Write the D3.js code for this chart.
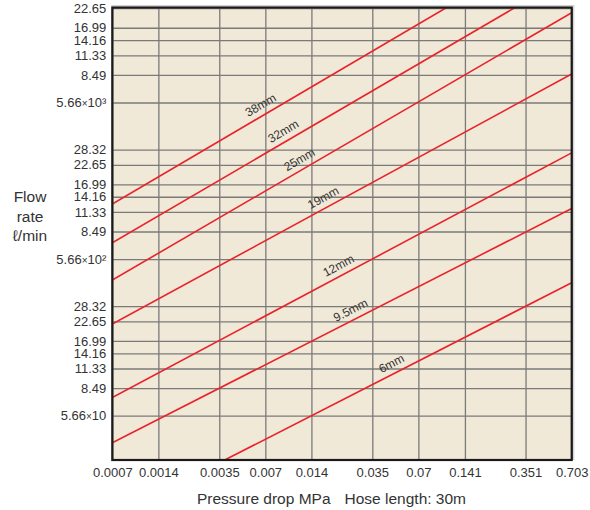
<!DOCTYPE html>
<html>
<head>
<meta charset="utf-8">
<script src="https://cdn.jsdelivr.net/npm/d3@7"></script>
<style>
  body { margin: 0; background: #fff; }
  svg { display: block; font-family: "Liberation Sans", Arial, sans-serif; }
</style>
</head>
<body>
<div id="chart"></div>
<script>
// x axis: pressure drop (MPa), y axis: flow rate (l/min), both log
var xTicks = [0.0007, 0.0014, 0.0035, 0.007, 0.014, 0.035, 0.07, 0.141, 0.351, 0.703];
var xTickLabels = ["0.0007", "0.0014", "0.0035", "0.007", "0.014", "0.035", "0.07", "0.141", "0.351", "0.703"];

var yTicks = [56.6, 84.9, 113.3, 141.6, 169.9, 226.5, 283.2,
              566, 849, 1133, 1416, 1699, 2265, 2832,
              5660, 8490, 11330, 14160, 16990, 22650];
var yTickLabels = ["5.66×10", "8.49", "11.33", "14.16", "16.99", "22.65", "28.32",
                   "5.66×10²", "8.49", "11.33", "14.16", "16.99", "22.65", "28.32",
                   "5.66×10³", "8.49", "11.33", "14.16", "16.99", "22.65"];

// hose sizes, each line read at two points (pressure, flow)
var hoseSizes = ["38mm", "32mm", "25mm", "19mm", "12mm", "9.5mm", "6mm"];
var hosePressure = [[0.0007, 0.107], [0.0007, 0.30], [0.0007, 0.703], [0.0007, 0.703],
                    [0.0007, 0.703], [0.0007, 0.703], [0.0038, 0.703]];
var hoseFlow = [[1272, 22880], [720, 22880], [416, 21200], [218, 8600],
                [74, 2700], [38, 1190], [29.5, 400]];
// pressure where each size label sits along its line
var labelPressure = [0.00704, 0.0099, 0.0126, 0.018, 0.0226, 0.027, 0.05];

var margin = {top: 7.5, left: 112.3},
    width = 459.4,
    height = 452.5;

var svg = d3.select("#chart").append("svg")
    .attr("width", 590)
    .attr("height", 510);

var g = svg.append("g")
    .attr("transform", "translate(" + margin.left + "," + margin.top + ")");

var x = d3.scaleLog().domain([0.0007, 0.703]).range([0, width]);
var y = d3.scaleLog().domain([29.5, 22880]).range([height, 0]);

// faint shadow outside the top and right edges
g.append("path")
    .attr("d", "M-1,-2H" + (width + 2) + "V" + height)
    .attr("fill", "none")
    .attr("stroke", "#d0d0d0")
    .attr("stroke-width", 1.2);

g.append("rect")
    .attr("width", width)
    .attr("height", height)
    .attr("fill", "#f1e9d7");

var tickFont = "13px 'Liberation Sans', Arial, sans-serif";

var gx = g.append("g")
    .attr("class", "axis axis--x")
    .attr("transform", "translate(0," + height + ")")
    .call(d3.axisBottom(x)
      .tickValues(xTicks)
      .tickFormat(function(d, i) { return xTickLabels[i]; })
      .tickSize(-height)
      .tickPadding(8));
gx.select(".domain").remove();
gx.selectAll("line").attr("stroke", "#7a7a7a").attr("stroke-width", 1.3);
gx.selectAll("text").attr("fill", "#333").style("font", tickFont);

var gy = g.append("g")
    .attr("class", "axis axis--y")
    .call(d3.axisLeft(y)
      .tickValues(yTicks)
      .tickFormat(function(d, i) { return yTickLabels[i]; })
      .tickSize(-width)
      .tickPadding(6));
gy.select(".domain").remove();
gy.selectAll("line").attr("stroke", "#7a7a7a").attr("stroke-width", 1.3);
gy.selectAll("text").attr("fill", "#333").style("font", tickFont)
  .each(function(d, i) {
    var s = yTickLabels[i];
    if (s.indexOf("×") < 0) return;
    var parts = s.split("×");
    var t = d3.select(this).text(parts[0]);
    t.append("tspan").style("font-size", "10px").text("×");
    t.append("tspan").text(parts[1]);
  });

// lines
svg.append("defs").append("clipPath").attr("id", "plot-clip")
  .append("rect").attr("width", width).attr("height", height);

var hoses = hoseSizes.map(function(id, i) {
  return {
    id: id,
    values: [{p: hosePressure[i][0], q: hoseFlow[i][0]},
             {p: hosePressure[i][1], q: hoseFlow[i][1]}],
    labelP: labelPressure[i]
  };
});

var line = d3.line()
    .x(function(d) { return x(d.p); })
    .y(function(d) { return y(d.q); });

g.append("g")
    .attr("clip-path", "url(#plot-clip)")
  .selectAll(".hose")
  .data(hoses)
  .enter().append("path")
    .attr("class", "hose")
    .attr("d", function(d) { return line(d.values); })
    .attr("fill", "none")
    .attr("stroke", "#e8232b")
    .attr("stroke-width", 1.6);

g.selectAll(".hose-label")
  .data(hoses)
  .enter().append("text")
    .attr("class", "hose-label")
    .attr("transform", function(d) {
      var a = d.values[0], b = d.values[1];
      var t = (Math.log(d.labelP) - Math.log(a.p)) / (Math.log(b.p) - Math.log(a.p));
      var q = Math.exp(Math.log(a.q) + t * (Math.log(b.q) - Math.log(a.q)));
      var ang = Math.atan2(y(b.q) - y(a.q), x(b.p) - x(a.p)) * 180 / Math.PI;
      return "translate(" + x(d.labelP) + "," + y(q) + ") rotate(" + ang + ")";
    })
    .attr("dy", -6)
    .attr("text-anchor", "middle")
    .attr("fill", "#333")
    .style("font", "12px 'Liberation Sans', Arial, sans-serif")
    .text(function(d) { return d.id; });

// frame
g.append("rect")
    .attr("width", width)
    .attr("height", height)
    .attr("fill", "none")
    .attr("stroke", "#1a1a1a")
    .attr("stroke-width", 2.2);

// axis titles
var yTitle = svg.append("text")
    .attr("text-anchor", "middle")
    .attr("fill", "#333")
    .style("font", "15.5px 'Liberation Sans', Arial, sans-serif");
yTitle.append("tspan").attr("x", 30).attr("y", 202).text("Flow");
yTitle.append("tspan").attr("x", 30).attr("y", 221.5).text("rate");
yTitle.append("tspan").attr("x", 30).attr("y", 240.5).text("ℓ/min");

var xTitle = svg.append("text")
    .attr("x", 197)
    .attr("y", 504)
    .attr("fill", "#333")
    .style("font", "15.5px 'Liberation Sans', Arial, sans-serif");
xTitle.append("tspan").text("Pressure drop MPa");
xTitle.append("tspan").attr("dx", 14).text("Hose length: 30m");
</script>
</body>
</html>
